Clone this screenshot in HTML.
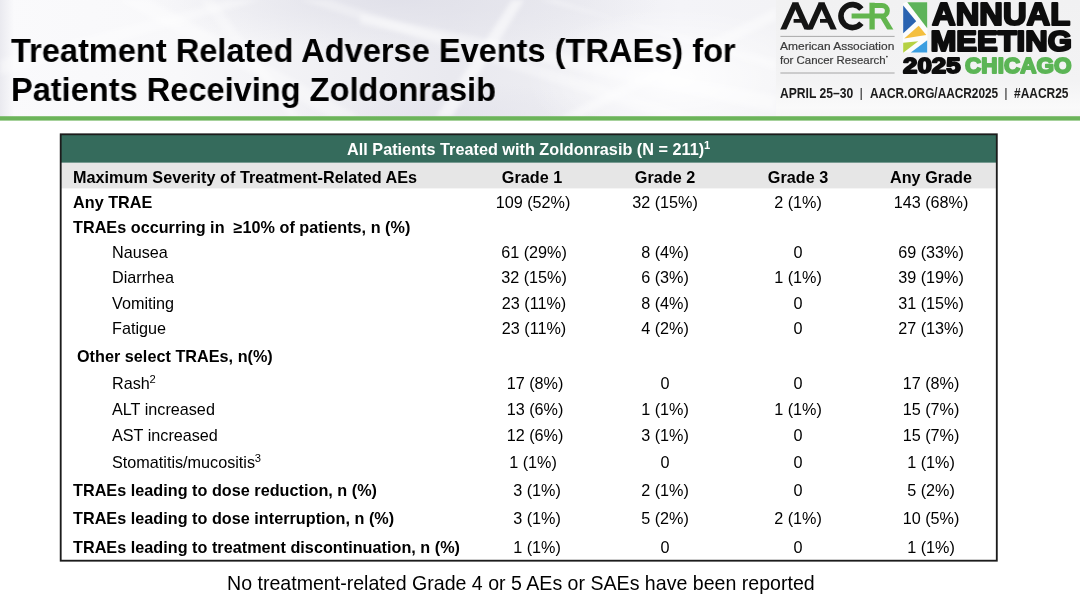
<!DOCTYPE html>
<html>
<head>
<meta charset="utf-8">
<title>TRAEs</title>
<style>
html,body{margin:0;padding:0;}
body{width:1080px;height:597px;overflow:hidden;background:#fff;font-family:"Liberation Sans",sans-serif;color:#000;position:relative;}
#hdr{position:absolute;left:0;top:0;width:1080px;height:117px;overflow:hidden;background:
linear-gradient(90deg,rgba(232,232,238,.9) 0,rgba(232,232,238,0) 14px),
radial-gradient(ellipse 150px 70px at 675px 78px,rgba(255,255,255,.9),rgba(255,255,255,0)),
radial-gradient(ellipse 260px 50px at 400px 0px,rgba(224,224,233,.9),rgba(224,224,233,0)),
radial-gradient(ellipse 150px 36px at 450px 117px,rgba(228,228,236,.9),rgba(228,228,236,0)),
linear-gradient(90deg,#fafafc 0,#f8f8fa 180px,#f0f0f4 330px,#e9e9ef 450px,#ededf2 560px,#f4f4f8 680px,#f3f3f6 775px);}
#lp{position:absolute;left:776px;top:0;width:304px;height:117px;background:linear-gradient(180deg,#f1f1f2 0,#f3f3f4 70%,#fafafa 92%,#f6f6f6 100%);}
#gline{position:absolute;left:0;top:116px;width:1080px;height:5px;background:linear-gradient(180deg,rgba(108,180,90,.55) 0,#6cb45a 1px,#6cb45a 4px,rgba(108,180,90,.2) 5px);}
.title{will-change:transform;position:absolute;left:11px;font-weight:bold;font-size:33px;line-height:40px;white-space:nowrap;transform:scaleX(0.987);transform-origin:0 0;}
#t1{top:31px;}
#t2{top:70px;}
#tbl{position:absolute;left:60px;top:134px;width:937px;height:427px;box-sizing:border-box;border:2px solid #1a1a1a;background:#fff;}
#gh{position:absolute;left:62px;top:136px;width:933px;height:27px;background:#2f6a55;}
#gr{position:absolute;left:62px;top:163px;width:933px;height:25px;background:#e6e6e6;}
.r{will-change:transform;position:absolute;font-size:16.2px;line-height:20px;white-space:nowrap;}
.b{font-weight:bold;letter-spacing:0.025px;}
.c{text-align:center;width:140px;}
.c1{left:462px;}
.c2{left:595px;}
.c3{left:728px;}
.c4{left:860.5px;}
sup{font-size:11.2px;line-height:0;vertical-align:baseline;position:relative;top:-5.9px;margin-left:-0.3px;}
#foot{will-change:transform;position:absolute;left:227.4px;top:570.8px;font-size:19.585px;line-height:24px;white-space:nowrap;}
</style>
</head>
<body>
<div id="hdr"><svg width="776" height="117" viewBox="0 0 776 117" style="position:absolute;left:0;top:0;">
<defs><filter id="bl" x="-5%" y="-20%" width="110%" height="140%"><feGaussianBlur stdDeviation="2.2"/></filter></defs>
<g filter="url(#bl)" fill="#fff">
<polygon points="436,117 452,117 524,0 512,0" opacity=".55"/>
<polygon points="360,14 360,24 776,112 776,96" opacity=".4"/>
<polygon points="300,0 330,0 700,117 660,117" opacity=".3"/>
<polygon points="120,0 150,0 360,117 330,117" opacity=".35"/>
<polygon points="200,0 214,0 300,117 290,117" opacity=".3"/>
<polygon points="560,117 580,117 776,20 776,8" opacity=".4"/>
<polygon points="0,60 0,75 260,0 230,0" opacity=".35"/>
<polygon points="540,0 556,0 776,70 776,60" opacity=".35"/>
</g></svg></div>
<div id="lp"></div>
<svg id="logo" width="1080" height="117" viewBox="0 0 1080 117" style="position:absolute;left:0;top:0;will-change:transform;" font-family="Liberation Sans, sans-serif">
<!-- AACR wordmark -->
<clipPath id="capclip"><rect x="770" y="2.6" width="130" height="26.9"/></clipPath>
<g clip-path="url(#capclip)">
<g fill="none" stroke="#141414" stroke-width="5.6">
<line x1="781.6" y1="33.4" x2="797.2" y2="-1.2"/>
<line x1="793.6" y1="-1.2" x2="809.2" y2="33.4"/>
<line x1="807.8" y1="33.4" x2="823.4" y2="-1.2"/>
<line x1="819.8" y1="-1.2" x2="835.4" y2="33.4"/>
<line x1="793.6" y1="20.9" x2="805" y2="20.9" stroke-width="3.8"/>
<line x1="820" y1="20.9" x2="831" y2="20.9" stroke-width="3.8"/>
</g>
</g>
<path d="M 861.4,8.9 A 11.5,11.5 0 1 0 861.4,23.3" fill="none" stroke="#141414" stroke-width="5.6"/>
<g fill="none" stroke="#62b54e" stroke-width="5.3" stroke-linejoin="miter">
<line x1="872.1" y1="2.7" x2="872.1" y2="29.5"/>
<path d="M 872.1,5.4 H 882 A 5.35,5.35 0 0 1 882,16.1 H 851.6" stroke-width="5"/>
<line x1="881.6" y1="15" x2="891.2" y2="31" clip-path="url(#capclip)"/>
</g>
<line x1="780.4" y1="36.4" x2="894.6" y2="36.4" stroke="#a0a0a0" stroke-width="0.9"/>
<line x1="780.4" y1="73" x2="894.6" y2="73" stroke="#9c9c9c" stroke-width="0.9"/>
<text x="780.1" y="50" font-size="11.5" fill="#3a3a3a" stroke="#3a3a3a" stroke-width="0.2" textLength="114.2" lengthAdjust="spacingAndGlyphs">American Association</text>
<text x="780" y="64.3" font-size="11.5" fill="#3a3a3a" stroke="#3a3a3a" stroke-width="0.2" textLength="105.6" lengthAdjust="spacingAndGlyphs">for Cancer Research</text>
<circle cx="886.9" cy="56.6" r="0.9" fill="#3a3a3a"/>
<!-- icon -->
<polygon points="902.9,3.5 906,2 927.4,2 927.4,52.6 902.9,52.6" fill="#fff" opacity=".75"/>
<polygon points="907.3,2.2 927.2,2.2 927.2,28.2" fill="#5db35a"/>
<polygon points="903.2,5.6 903.2,33.2 916.2,21.2" fill="#2a63b0"/>
<polygon points="904.2,38.6 918.7,25.8 926.3,35" fill="#f4bf3f"/>
<polygon points="903.2,42.8 918.3,41.3 903.2,52.8" fill="#b5d143"/>
<polygon points="927.2,40.2 927.2,52.5 910.8,52.5" fill="#3b9ee0"/>
<!-- Annual meeting -->
<g font-weight="bold" stroke-linejoin="round">
<text x="932" y="24.8" font-size="31.8" fill="#0d0d0d" stroke="#0d0d0d" stroke-width="2.2" textLength="138.2" lengthAdjust="spacingAndGlyphs">ANNUAL</text>
<text x="930.4" y="51.3" font-size="29.4" fill="#0d0d0d" stroke="#0d0d0d" stroke-width="2.2" textLength="141.4" lengthAdjust="spacingAndGlyphs">MEETING</text>
<text x="903.1" y="72.8" font-size="21.6" fill="#0d0d0d" stroke="#0d0d0d" stroke-width="1.8" textLength="57.5" lengthAdjust="spacingAndGlyphs">2025</text>
<text x="965.1" y="72.8" font-size="21.6" fill="#5cb556" stroke="#5cb556" stroke-width="1.8" textLength="106.4" lengthAdjust="spacingAndGlyphs">CHICAGO</text>
<text x="780" y="97.9" font-size="14" fill="#1b1b1b" textLength="73.2" lengthAdjust="spacingAndGlyphs">APRIL 25–30</text>
<text x="859.6" y="97" font-size="13" fill="#1b1b1b" font-weight="normal">|</text>
<text x="869.9" y="97.9" font-size="14" fill="#1b1b1b" textLength="128.3" lengthAdjust="spacingAndGlyphs">AACR.ORG/AACR2025</text>
<text x="1004.2" y="97" font-size="13" fill="#1b1b1b" font-weight="normal">|</text>
<text x="1014" y="97.9" font-size="14" fill="#1b1b1b" textLength="54.5" lengthAdjust="spacingAndGlyphs">#AACR25</text>
</g>
</svg>
<div id="gline"></div>
<div class="title" id="t1">Treatment Related Adverse Events (TRAEs) for</div>
<div class="title" id="t2">Patients Receiving Zoldonrasib</div>

<svg id="frame" width="1080" height="597" viewBox="0 0 1080 597" style="position:absolute;left:0;top:0;">
<rect x="61" y="135" width="935.6" height="27.8" fill="#356b5c"/>
<rect x="61" y="162.8" width="935.6" height="25.6" fill="#e6e6e6"/>
<rect x="60.7" y="134.3" width="936.1" height="426.4" fill="none" stroke="#1c1c1c" stroke-width="1.85"/>
</svg>
<div class="r b" id="h0" style="left:346.5px;top:139px;color:#fff;letter-spacing:0.03px;">All Patients Treated with Zoldonrasib (N = 211)<sup>1</sup></div>

<div class="r b" id="h1" style="left:73px;top:167px;">Maximum Severity of Treatment-Related AEs</div>
<div class="r b c c1" style="top:167px;">Grade 1</div>
<div class="r b c c2" style="top:167px;">Grade 2</div>
<div class="r b c c3" style="top:167px;">Grade 3</div>
<div class="r b c c4" style="top:167px;">Any Grade</div>

<!--ROWS-->
<div class="r b" id="l0" style="left:73px;top:192px;">Any TRAE</div>
<div class="r c" id="v0_0" style="left:463px;top:192px;">109 (52%)</div>
<div class="r c" id="v0_1" style="left:595px;top:192px;">32 (15%)</div>
<div class="r c" id="v0_2" style="left:728px;top:192px;">2 (1%)</div>
<div class="r c" id="v0_3" style="left:860.5px;top:192px;">143 (68%)</div>
<div class="r b" id="l1" style="left:73px;top:217px;">TRAEs occurring in&nbsp; ≥10% of patients, n (%)</div>
<div class="r" id="l2" style="left:111.7px;top:242.3px;">Nausea</div>
<div class="r c" id="v2_0" style="left:464.4px;top:242.3px;">61 (29%)</div>
<div class="r c" id="v2_1" style="left:595px;top:242.3px;">8 (4%)</div>
<div class="r c" id="v2_2" style="left:728px;top:242.3px;">0</div>
<div class="r c" id="v2_3" style="left:860.5px;top:242.3px;">69 (33%)</div>
<div class="r" id="l3" style="left:111.7px;top:267.2px;">Diarrhea</div>
<div class="r c" id="v3_0" style="left:464.4px;top:267.2px;">32 (15%)</div>
<div class="r c" id="v3_1" style="left:595px;top:267.2px;">6 (3%)</div>
<div class="r c" id="v3_2" style="left:728px;top:267.2px;">1 (1%)</div>
<div class="r c" id="v3_3" style="left:860.5px;top:267.2px;">39 (19%)</div>
<div class="r" id="l4" style="left:111.7px;top:293.2px;">Vomiting</div>
<div class="r c" id="v4_0" style="left:464.4px;top:293.2px;">23 (11%)</div>
<div class="r c" id="v4_1" style="left:595px;top:293.2px;">8 (4%)</div>
<div class="r c" id="v4_2" style="left:728px;top:293.2px;">0</div>
<div class="r c" id="v4_3" style="left:860.5px;top:293.2px;">31 (15%)</div>
<div class="r" id="l5" style="left:111.7px;top:318px;">Fatigue</div>
<div class="r c" id="v5_0" style="left:464.4px;top:318px;">23 (11%)</div>
<div class="r c" id="v5_1" style="left:595px;top:318px;">4 (2%)</div>
<div class="r c" id="v5_2" style="left:728px;top:318px;">0</div>
<div class="r c" id="v5_3" style="left:860.5px;top:318px;">27 (13%)</div>
<div class="r b" id="l6" style="left:77px;top:346px;">Other select TRAEs, n(%)</div>
<div class="r" id="l7" style="left:111.7px;top:373.4px;">Rash<sup>2</sup></div>
<div class="r c" id="v7_0" style="left:464.9px;top:373.4px;">17 (8%)</div>
<div class="r c" id="v7_1" style="left:595px;top:373.4px;">0</div>
<div class="r c" id="v7_2" style="left:728px;top:373.4px;">0</div>
<div class="r c" id="v7_3" style="left:860.5px;top:373.4px;">17 (8%)</div>
<div class="r" id="l8" style="left:111.7px;top:399px;">ALT increased</div>
<div class="r c" id="v8_0" style="left:464.9px;top:399px;">13 (6%)</div>
<div class="r c" id="v8_1" style="left:595px;top:399px;">1 (1%)</div>
<div class="r c" id="v8_2" style="left:728px;top:399px;">1 (1%)</div>
<div class="r c" id="v8_3" style="left:860.5px;top:399px;">15 (7%)</div>
<div class="r" id="l9" style="left:111.7px;top:424.5px;">AST increased</div>
<div class="r c" id="v9_0" style="left:464.9px;top:424.5px;">12 (6%)</div>
<div class="r c" id="v9_1" style="left:595px;top:424.5px;">3 (1%)</div>
<div class="r c" id="v9_2" style="left:728px;top:424.5px;">0</div>
<div class="r c" id="v9_3" style="left:860.5px;top:424.5px;">15 (7%)</div>
<div class="r" id="l10" style="left:111.7px;top:451.5px;">Stomatitis/mucositis<sup>3</sup></div>
<div class="r c" id="v10_0" style="left:462.8px;top:451.5px;">1 (1%)</div>
<div class="r c" id="v10_1" style="left:595px;top:451.5px;">0</div>
<div class="r c" id="v10_2" style="left:728px;top:451.5px;">0</div>
<div class="r c" id="v10_3" style="left:860.5px;top:451.5px;">1 (1%)</div>
<div class="r b" id="l11" style="left:73px;top:480.4px;">TRAEs leading to dose reduction, n (%)</div>
<div class="r c" id="v11_0" style="left:467px;top:480.4px;">3 (1%)</div>
<div class="r c" id="v11_1" style="left:595px;top:480.4px;">2 (1%)</div>
<div class="r c" id="v11_2" style="left:728px;top:480.4px;">0</div>
<div class="r c" id="v11_3" style="left:860.5px;top:480.4px;">5 (2%)</div>
<div class="r b" id="l12" style="left:73px;top:508px;">TRAEs leading to dose interruption, n (%)</div>
<div class="r c" id="v12_0" style="left:467px;top:508px;">3 (1%)</div>
<div class="r c" id="v12_1" style="left:595px;top:508px;">5 (2%)</div>
<div class="r c" id="v12_2" style="left:728px;top:508px;">2 (1%)</div>
<div class="r c" id="v12_3" style="left:860.5px;top:508px;">10 (5%)</div>
<div class="r b" id="l13" style="left:73px;top:537px;">TRAEs leading to treatment discontinuation, n (%)</div>
<div class="r c" id="v13_0" style="left:467.3px;top:537px;">1 (1%)</div>
<div class="r c" id="v13_1" style="left:595px;top:537px;">0</div>
<div class="r c" id="v13_2" style="left:728px;top:537px;">0</div>
<div class="r c" id="v13_3" style="left:860.5px;top:537px;">1 (1%)</div>
<!--/ROWS-->

<div id="foot">No treatment-related Grade 4 or 5 AEs or SAEs have been reported</div>
</body>
</html>
